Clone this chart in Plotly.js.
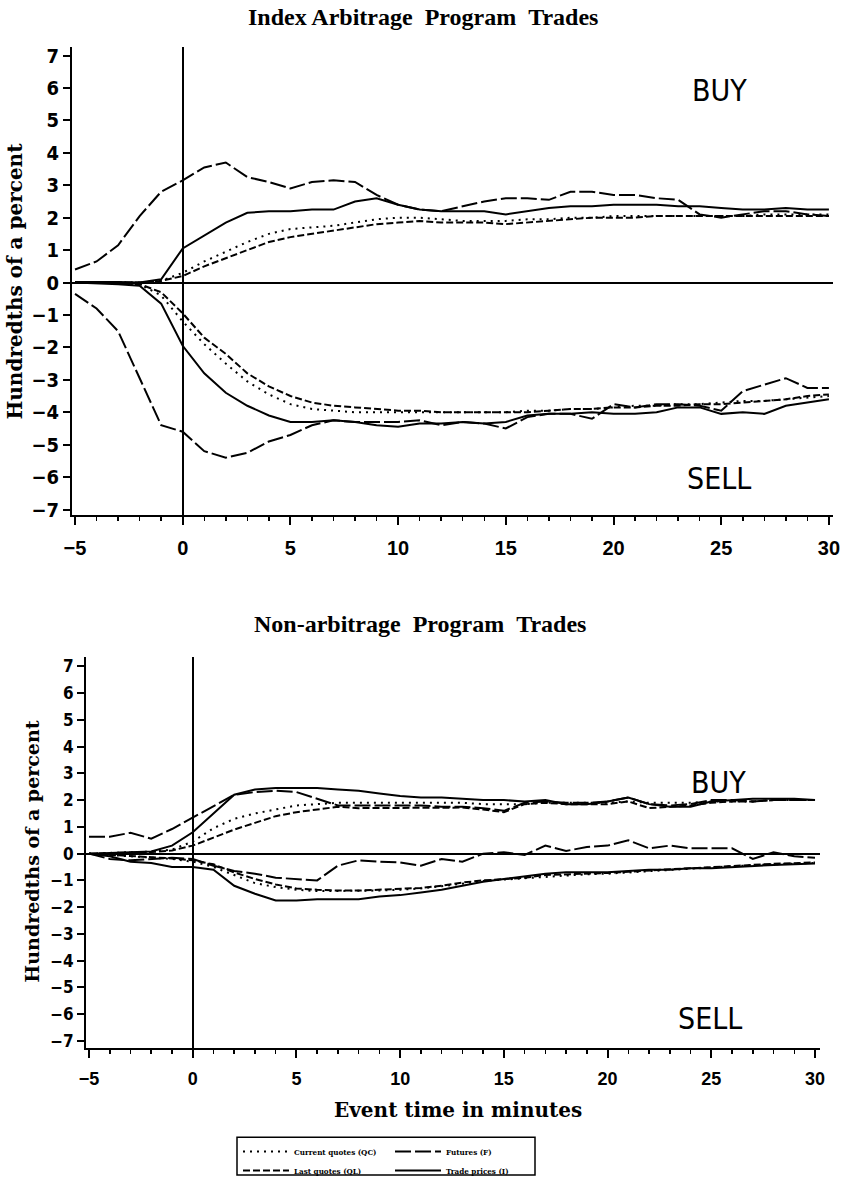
<!DOCTYPE html>
<html>
<head>
<meta charset="utf-8">
<script src="https://cdn.plot.ly/plotly-3.0.1.min.js"></script>
<style>
html,body{margin:0;padding:0;background:#fff;}
#chart{width:849px;height:1185px;}
</style>
</head>
<body>
<div id="chart"></div>
<script>
// Event time in minutes
const minutes = [-5,-4,-3,-2,-1,0,1,2,3,4,5,6,7,8,9,10,11,12,13,14,15,16,17,18,19,20,21,22,23,24,25,26,27,28,29,30];

// ---- Index arbitrage program trades (hundredths of a percent) ----
const arbBuyQC  = [0,0,0,0,0.05,0.3,0.65,0.95,1.25,1.5,1.65,1.7,1.75,1.85,1.95,2.0,2.0,1.95,1.9,1.9,1.9,1.95,1.95,2.0,2.0,2.05,2.05,2.05,2.05,2.05,2.05,2.05,2.1,2.1,2.1,2.1];
const arbBuyQL  = [0,0,0,0,0.05,0.2,0.5,0.75,1.0,1.25,1.4,1.5,1.6,1.7,1.8,1.85,1.9,1.85,1.85,1.85,1.8,1.85,1.9,1.95,2.0,2.0,2.0,2.05,2.05,2.05,2.05,2.05,2.05,2.05,2.05,2.05];
const arbBuyF   = [0.4,0.65,1.15,2.05,2.8,3.15,3.55,3.7,3.25,3.1,2.9,3.1,3.15,3.1,2.7,2.4,2.25,2.2,2.35,2.5,2.6,2.6,2.55,2.8,2.8,2.7,2.7,2.6,2.55,2.1,2.0,2.1,2.2,2.2,2.1,2.05];
const arbBuyI   = [0.02,0.03,0.02,0,0.1,1.05,1.45,1.85,2.15,2.2,2.2,2.25,2.25,2.5,2.6,2.4,2.25,2.2,2.2,2.2,2.1,2.2,2.3,2.35,2.35,2.4,2.4,2.4,2.35,2.35,2.3,2.25,2.25,2.3,2.25,2.25];
const arbSellQC = [0,0,-0.02,-0.05,-0.4,-1.2,-1.9,-2.5,-3.05,-3.45,-3.75,-3.9,-3.95,-4.0,-4.0,-4.0,-4.0,-4.0,-4.0,-4.0,-4.0,-3.95,-3.95,-3.9,-3.9,-3.85,-3.8,-3.8,-3.75,-3.75,-3.7,-3.65,-3.65,-3.6,-3.55,-3.5];
const arbSellQL = [0,0,-0.02,-0.05,-0.3,-0.95,-1.7,-2.2,-2.8,-3.2,-3.5,-3.7,-3.8,-3.85,-3.9,-3.95,-3.95,-4.0,-4.0,-4.0,-4.0,-4.0,-3.95,-3.9,-3.9,-3.85,-3.85,-3.8,-3.8,-3.75,-3.75,-3.7,-3.65,-3.6,-3.5,-3.45];
const arbSellF  = [-0.35,-0.8,-1.5,-2.95,-4.4,-4.6,-5.2,-5.4,-5.25,-4.9,-4.7,-4.4,-4.25,-4.3,-4.3,-4.3,-4.25,-4.4,-4.3,-4.35,-4.5,-4.15,-4.05,-4.05,-4.2,-3.75,-3.85,-3.75,-3.75,-3.8,-3.95,-3.35,-3.15,-2.95,-3.25,-3.25];
const arbSellI  = [0,-0.02,-0.05,-0.1,-0.65,-1.95,-2.8,-3.4,-3.8,-4.1,-4.3,-4.3,-4.25,-4.3,-4.4,-4.45,-4.35,-4.35,-4.3,-4.35,-4.3,-4.1,-4.05,-4.05,-4.0,-4.05,-4.05,-4.0,-3.85,-3.85,-4.05,-4.0,-4.05,-3.8,-3.7,-3.6];

// ---- Non-arbitrage program trades ----
const nonBuyQC  = [0,0.02,0.05,0.08,0.15,0.45,0.95,1.3,1.5,1.65,1.8,1.85,1.9,1.9,1.9,1.9,1.9,1.9,1.9,1.85,1.85,1.85,1.9,1.9,1.9,1.9,1.95,1.9,1.9,1.9,1.95,1.95,1.95,2.0,2.0,2.0];
const nonBuyQL  = [0,0.02,0.04,0.06,0.12,0.3,0.6,0.9,1.15,1.4,1.55,1.65,1.75,1.7,1.7,1.7,1.7,1.72,1.72,1.65,1.55,1.85,1.9,1.85,1.85,1.85,1.95,1.7,1.75,1.8,1.9,1.95,1.95,2.0,2.0,2.0];
const nonBuyF   = [0.63,0.63,0.78,0.56,0.92,1.35,1.8,2.2,2.3,2.35,2.3,2.05,1.8,1.8,1.8,1.8,1.8,1.75,1.75,1.7,1.6,1.9,1.95,1.9,1.9,1.95,2.1,1.85,1.8,1.85,2.0,2.0,1.95,2.0,2.0,2.0];
const nonBuyI   = [0,0.03,0.05,0.08,0.3,0.8,1.5,2.2,2.4,2.45,2.45,2.45,2.4,2.35,2.25,2.15,2.1,2.1,2.05,2.0,2.0,1.95,2.0,1.85,1.85,1.95,2.1,1.85,1.75,1.75,1.95,2.0,2.05,2.05,2.05,2.0];
const nonSellQC = [0,-0.05,-0.1,-0.15,-0.2,-0.3,-0.5,-0.8,-1.1,-1.25,-1.35,-1.4,-1.4,-1.4,-1.38,-1.35,-1.3,-1.22,-1.12,-1.02,-0.97,-0.92,-0.85,-0.8,-0.77,-0.75,-0.7,-0.65,-0.6,-0.57,-0.52,-0.47,-0.43,-0.4,-0.37,-0.35];
const nonSellQL = [0,-0.04,-0.08,-0.12,-0.18,-0.25,-0.4,-0.7,-0.95,-1.15,-1.3,-1.35,-1.38,-1.38,-1.35,-1.3,-1.28,-1.2,-1.08,-1.0,-0.95,-0.9,-0.8,-0.78,-0.75,-0.72,-0.68,-0.62,-0.58,-0.55,-0.5,-0.45,-0.42,-0.38,-0.35,-0.33];
const nonSellF  = [0,-0.2,-0.25,-0.2,-0.15,-0.2,-0.45,-0.65,-0.75,-0.9,-0.95,-1.0,-0.45,-0.25,-0.3,-0.33,-0.45,-0.2,-0.3,0,0.05,-0.05,0.3,0.1,0.25,0.3,0.5,0.2,0.3,0.2,0.2,0.2,-0.2,0.05,-0.1,-0.15];
const nonSellI  = [0,-0.1,-0.3,-0.35,-0.5,-0.5,-0.6,-1.2,-1.5,-1.75,-1.75,-1.7,-1.7,-1.7,-1.6,-1.55,-1.45,-1.35,-1.2,-1.05,-0.95,-0.85,-0.75,-0.7,-0.7,-0.7,-0.65,-0.6,-0.6,-0.55,-0.55,-0.5,-0.45,-0.42,-0.4,-0.37];

const seriesNames = ['Current quotes (QC)','Last quotes (QL)','Futures (F)','Trade prices (I)'];
const yTickVals = [-7,-6,-5,-4,-3,-2,-1,0,1,2,3,4,5,6,7];
const xTickVals = [-5,0,5,10,15,20,25,30];
const panelTitles = ['Index Arbitrage \u00a0Program \u00a0Trades','Non-arbitrage \u00a0Program \u00a0Trades'];
const yTitle = 'Hundredths of a percent';
const xTitle = 'Event time in minutes';

const styles = {
  QC: {color:'#000', width:2, dash:'2px,5px'},
  QL: {color:'#000', width:2, dash:'7px,3px'},
  F:  {color:'#000', width:2, dash:'16px,4px'},
  I:  {color:'#000', width:2, dash:'solid'}
};

function tr(y, key, xa, ya, nameIdx, legendKey) {
  const t = {x: minutes, y: y, type:'scatter', mode:'lines', line: styles[key],
             xaxis: xa, yaxis: ya, name: seriesNames[nameIdx], showlegend: false, hoverinfo:'skip'};
  if (legendKey) { t.showlegend = true; t.legend = legendKey; }
  return t;
}

const data = [
  tr(arbBuyQC,'QC','x','y',0,'legend'),
  tr(arbBuyQL,'QL','x','y',1,'legend'),
  tr(arbBuyF,'F','x','y',2,'legend2'),
  tr(arbBuyI,'I','x','y',3,'legend2'),
  tr(arbSellQC,'QC','x','y',0),
  tr(arbSellQL,'QL','x','y',1),
  tr(arbSellF,'F','x','y',2),
  tr(arbSellI,'I','x','y',3),
  tr(nonBuyQC,'QC','x2','y2',0),
  tr(nonBuyQL,'QL','x2','y2',1),
  tr(nonBuyF,'F','x2','y2',2),
  tr(nonBuyI,'I','x2','y2',3),
  tr(nonSellQC,'QC','x2','y2',0),
  tr(nonSellQL,'QL','x2','y2',1),
  tr(nonSellF,'F','x2','y2',2),
  tr(nonSellI,'I','x2','y2',3)
];

const W = 849, H = 1185;
const px = v => v / W;
const py = v => 1 - v / H;

function xAxis(domain, range, anchor, fsize) {
  return {domain: domain, range: range, anchor: anchor, showgrid:false,
    showline:true, linecolor:'#000', linewidth:2, mirror:false,
    zeroline:true, zerolinecolor:'#000', zerolinewidth:2,
    tickmode:'array', tickvals:xTickVals, ticks:'outside', ticklen:8, tickwidth:2, tickcolor:'#000',
    minor:{dtick:1, tick0:0, ticks:'outside', ticklen:4, tickwidth:1.5, tickcolor:'#000', showgrid:false},
    tickfont:{family:'Liberation Sans, Arial, sans-serif', size:fsize, color:'#000', weight:'bold'},
    ticklabelstandoff: 6, fixedrange:true};
}
function yAxis(domain, range, anchor, fsize) {
  return {domain: domain, range: range, anchor: anchor, showgrid:false,
    showline:true, linecolor:'#000', linewidth:2, mirror:false,
    zeroline:true, zerolinecolor:'#000', zerolinewidth:2,
    tickmode:'array', tickvals:yTickVals, ticks:'outside', ticklen:7, tickwidth:2, tickcolor:'#000',
    tickfont:{family:'Liberation Sans Narrow, DejaVu Sans Condensed, sans-serif', size:fsize, color:'#000', weight:'bold'},
    ticklabelstandoff: 0, fixedrange:true};
}

const titleFont = {family:'Liberation Serif, Times New Roman, serif', size:24, color:'#000', weight:'bold'};
const slabFont = s => ({family:'DejaVu Serif, serif', size:s, color:'#000', weight:'bold'});
const sideFont = {family:'Liberation Sans Narrow, DejaVu Sans Condensed, sans-serif', size:30, color:'#000'};
const legendFont = {family:'DejaVu Serif Condensed, DejaVu Serif, serif', size:8, color:'#000', weight:'bold'};

function ann(text, x, y, font, extra) {
  return Object.assign({text:text, xref:'paper', yref:'paper', x:px(x), y:py(y),
    xanchor:'center', yanchor:'middle', showarrow:false, font:font}, extra||{});
}

const layout = {
  width: W, height: H,
  margin:{l:0,r:0,t:0,b:0,pad:0},
  paper_bgcolor:'#fff', plot_bgcolor:'#fff',
  xaxis: xAxis([px(72), px(833)], [-5.14, 30.19], 'y', 20),
  yaxis: yAxis([py(518), py(47)], [-7.18, 7.27], 'x', 20),
  xaxis2: xAxis([px(86), px(820)], [-5.145, 30.24], 'y2', 18),
  yaxis2: yAxis([py(1053), py(660)], [-7.25, 7.36], 'x2', 17),
  showlegend: true,
  legend: {x:px(238), y:py(1143), xanchor:'left', yanchor:'top', bgcolor:'rgba(0,0,0,0)',
    borderwidth:0, tracegroupgap:0, itemwidth:46, font:legendFont},
  legend2: {x:px(390), y:py(1143), xanchor:'left', yanchor:'top', bgcolor:'rgba(0,0,0,0)',
    borderwidth:0, tracegroupgap:0, itemwidth:46, font:legendFont},
  shapes: [
    {type:'rect', xref:'paper', yref:'paper', x0:px(237), x1:px(535), y0:py(1181), y1:py(1143),
     line:{color:'#000', width:1.5}, fillcolor:'rgba(0,0,0,0)'}
  ],
  annotations: [
    ann(panelTitles[0], 423, 17, titleFont),
    ann(panelTitles[1], 420, 627, titleFont),
    ann(yTitle, 15, 283, slabFont(20), {textangle:-90}),
    ann(yTitle, 32, 856, slabFont(19), {textangle:-90}),
    ann(xTitle, 458, 1116, slabFont(20)),
    ann('BUY', 719, 91, sideFont),
    ann('SELL', 719, 481, sideFont),
    ann('BUY', 718, 786, sideFont),
    ann('SELL', 710, 1024, sideFont)
  ]
};

Plotly.newPlot('chart', data, layout, {staticPlot:true, displayModeBar:false});
</script>
</body>
</html>
